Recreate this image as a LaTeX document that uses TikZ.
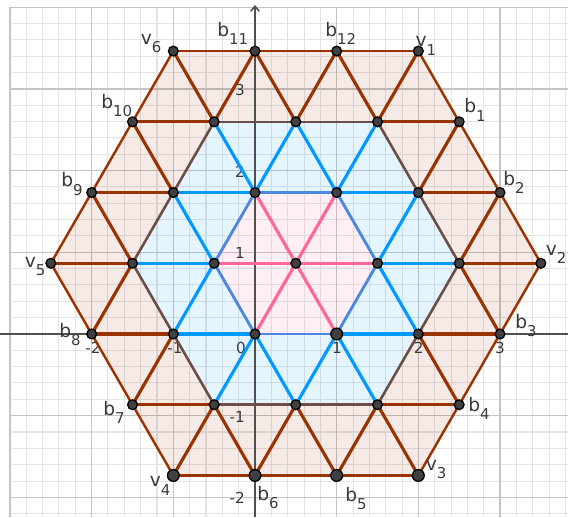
\documentclass[tikz,border=0pt]{standalone}
\usepackage{fontspec}
\setmainfont{DejaVu Sans}
\usetikzlibrary{arrows.meta}

\definecolor{gbrown}{RGB}{153,51,0}
\definecolor{gblue}{RGB}{0,153,255}
\definecolor{gpink}{RGB}{255,102,153}
\definecolor{gmidbd}{RGB}{107,78,70}
\definecolor{ginbd}{RGB}{77,136,222}
\definecolor{gridmaj}{RGB}{196,196,196}
\definecolor{gridmin}{RGB}{228,228,228}
\definecolor{ptfill}{RGB}{64,64,64}
\definecolor{labcol}{RGB}{58,58,58}
\definecolor{axiscol}{RGB}{80,80,80}

\newcommand\hexdist[3]{\pgfmathtruncatemacro#1{max(abs(#3-1),(abs(#2-1)+abs(#3-1))/2)}}
\newcommand\seg[3]{\draw[#1] (#2) -- (#3);}
\newcommand\subf{\fontsize{5.2}{6}\selectfont}
\newcommand\plab[5]{\node[lab] (#1) at (#2,#3) {#4\raisebox{-2.8pt}{\subf #5}};}

\begin{document}
\begin{tikzpicture}[x=1cm,y=1cm,
  brownl/.style={gbrown, line width=1.1pt},
  outerl/.style={gbrown, line width=0.85pt},
  bluel/.style={gblue, line width=1.1pt},
  midl/.style={gmidbd, line width=0.9pt},
  pinkl/.style={gpink, line width=1.1pt},
  innerl/.style={ginbd, line width=1pt},
  pt/.style={circle, fill=ptfill, draw=black, line width=0.45pt, inner sep=0pt, minimum size=3.4pt},
  bigpt/.style={pt, minimum size=4.1pt},
  lab/.style={anchor=base west, inner sep=0pt, text=labcol, font=\fontsize{6.5}{7}\selectfont},
  ticklab/.style={inner sep=0pt, text=labcol, font=\fontsize{5.3}{6}\selectfont},
  axisline/.style={axiscol, line width=0.55pt}
]
\useasboundingbox (-3.1223,-2.2408) rectangle (3.8325,4.0896);

% grid
\draw[gridmin, line width=0.35pt, step=0.2] (-3.001,-2.2408) grid (3.8325,4.001);
\draw[gridmaj, line width=0.4pt, step=1] (-3.001,-2.2408) grid (3.8325,4.001);

% lattice points
\foreach \j in {-2,...,4}{
  \foreach \k in {-5,...,7}{
    \ifodd\numexpr\k-\j\relax\else
      \hexdist\dd\k\j
      \ifnum\dd<4
        \pgfmathtruncatemacro\K{\k+6}
        \pgfmathtruncatemacro\J{\j+3}
        \coordinate (p\K x\J) at ({\k/2},{\j*sqrt(3)/2});
      \fi
    \fi
  }
}

% fills
\fill[gbrown, opacity=0.1, even odd rule]
  (p10x7)--(p13x4)--(p10x1)--(p4x1)--(p1x4)--(p4x7)--cycle
  (p9x6)--(p11x4)--(p9x2)--(p5x2)--(p3x4)--(p5x6)--cycle;
\fill[gblue, opacity=0.1, even odd rule]
  (p9x6)--(p11x4)--(p9x2)--(p5x2)--(p3x4)--(p5x6)--cycle
  (p8x5)--(p9x4)--(p8x3)--(p6x3)--(p5x4)--(p6x5)--cycle;
\fill[gpink, opacity=0.1]
  (p8x5)--(p9x4)--(p8x3)--(p6x3)--(p5x4)--(p6x5)--cycle;

% axes
\coordinate (xl) at (-3.1223,0);
\coordinate (xr) at (3.8325,0);
\coordinate (yb) at (0,-2.2408);
\coordinate (yt) at (0,4.028);
\draw[axisline] (xl) -- (xr);
\draw[axisline, -{Straight Barb[length=1.75pt,width=3pt]}] (yb) -- (yt);

% tick labels
\node[ticklab, anchor=north] (tx-2) at (-1.984,-0.09) {-2};
\node[ticklab, anchor=north] (tx-1) at (-0.98,-0.09) {-1};
\node[ticklab, anchor=north] (tx0) at (-0.171,-0.09) {0};
\node[ticklab, anchor=north] (tx1) at (1.005,-0.09) {1};
\node[ticklab, anchor=north] (tx2) at (2.003,-0.09) {2};
\node[ticklab, anchor=north] (tx3) at (3.0,-0.09) {3};
\node[ticklab, anchor=east] (ty1) at (-0.118,0.99) {1};
\node[ticklab, anchor=east] (ty2) at (-0.118,1.99) {2};
\node[ticklab, anchor=east] (ty3) at (-0.118,2.99) {3};
\node[ticklab, anchor=east] (ty-1) at (-0.118,-1.01) {-1};
\node[ticklab, anchor=east] (ty-2) at (-0.118,-2.01) {-2};

% edges
\foreach \j in {-2,...,4}{
  \foreach \k in {-5,...,7}{
    \ifodd\numexpr\k-\j\relax\else
      \hexdist\da\k\j
      \ifnum\da<4
        \foreach \dk/\dj in {2/0,1/1,-1/1}{
          \pgfmathtruncatemacro\kk{\k+\dk}
          \pgfmathtruncatemacro\jj{\j+\dj}
          \hexdist\db\kk\jj
          \ifnum\db<4
            \pgfmathtruncatemacro\mn{min(\da,\db)}
            \pgfmathtruncatemacro\mx{max(\da,\db)}
            \edef\na{p\the\numexpr\k+6\relax x\the\numexpr\j+3\relax}
            \edef\nb{p\the\numexpr\kk+6\relax x\the\numexpr\jj+3\relax}
            \ifnum\mx=1
              \ifnum\mn=0 \seg{pinkl}{\na}{\nb}\else\seg{innerl}{\na}{\nb}\fi
            \else\ifnum\mx=2
              \ifnum\mn=1 \seg{bluel}{\na}{\nb}\else\seg{midl}{\na}{\nb}\fi
            \else
              \ifnum\mn=2 \seg{brownl}{\na}{\nb}\else\seg{outerl}{\na}{\nb}\fi
            \fi\fi
          \fi
        }
      \fi
    \fi
  }
}

% dots
\foreach \j in {-2,...,4}{
  \foreach \k in {-5,...,7}{
    \ifodd\numexpr\k-\j\relax\else
      \hexdist\dd\k\j
      \ifnum\dd<4
        \pgfmathtruncatemacro\K{\k+6}
        \pgfmathtruncatemacro\J{\j+3}
        \ifnum\J=1
          \node[bigpt] (d\K x\J) at (p\K x\J) {};
        \else\ifnum\K\J=83
          \node[bigpt] (d\K x\J) at (p\K x\J) {};
        \else
          \node[pt] (d\K x\J) at (p\K x\J) {};
        \fi\fi
      \fi
    \fi
  }
}

% labels
\plab{lb11}{-0.468}{3.637}{b}{11}
\plab{lb12}{0.854}{3.637}{b}{12}
\plab{lv1}{1.960}{3.514}{v}{1}
\plab{lv6}{-1.405}{3.539}{v}{6}
\plab{lb10}{-1.888}{2.767}{b}{10}
\plab{lb9}{-2.378}{1.800}{b}{9}
\plab{lv5}{-2.825}{0.820}{v}{5}
\plab{lb8}{-2.403}{-0.037}{b}{8}
\plab{lb7}{-1.864}{-0.992}{b}{7}
\plab{lv4}{-1.295}{-1.873}{v}{4}
\plab{lb6}{0.022}{-2.033}{b}{6}
\plab{lb5}{1.099}{-2.045}{b}{5}
\plab{lv3}{2.085}{-1.677}{v}{3}
\plab{lb4}{2.605}{-0.943}{b}{4}
\plab{lb3}{3.181}{0.073}{b}{3}
\plab{lv2}{3.554}{0.967}{v}{2}
\plab{lb2}{3.034}{1.824}{b}{2}
\plab{lb1}{2.556}{2.706}{b}{1}
\end{tikzpicture}
\end{document}
